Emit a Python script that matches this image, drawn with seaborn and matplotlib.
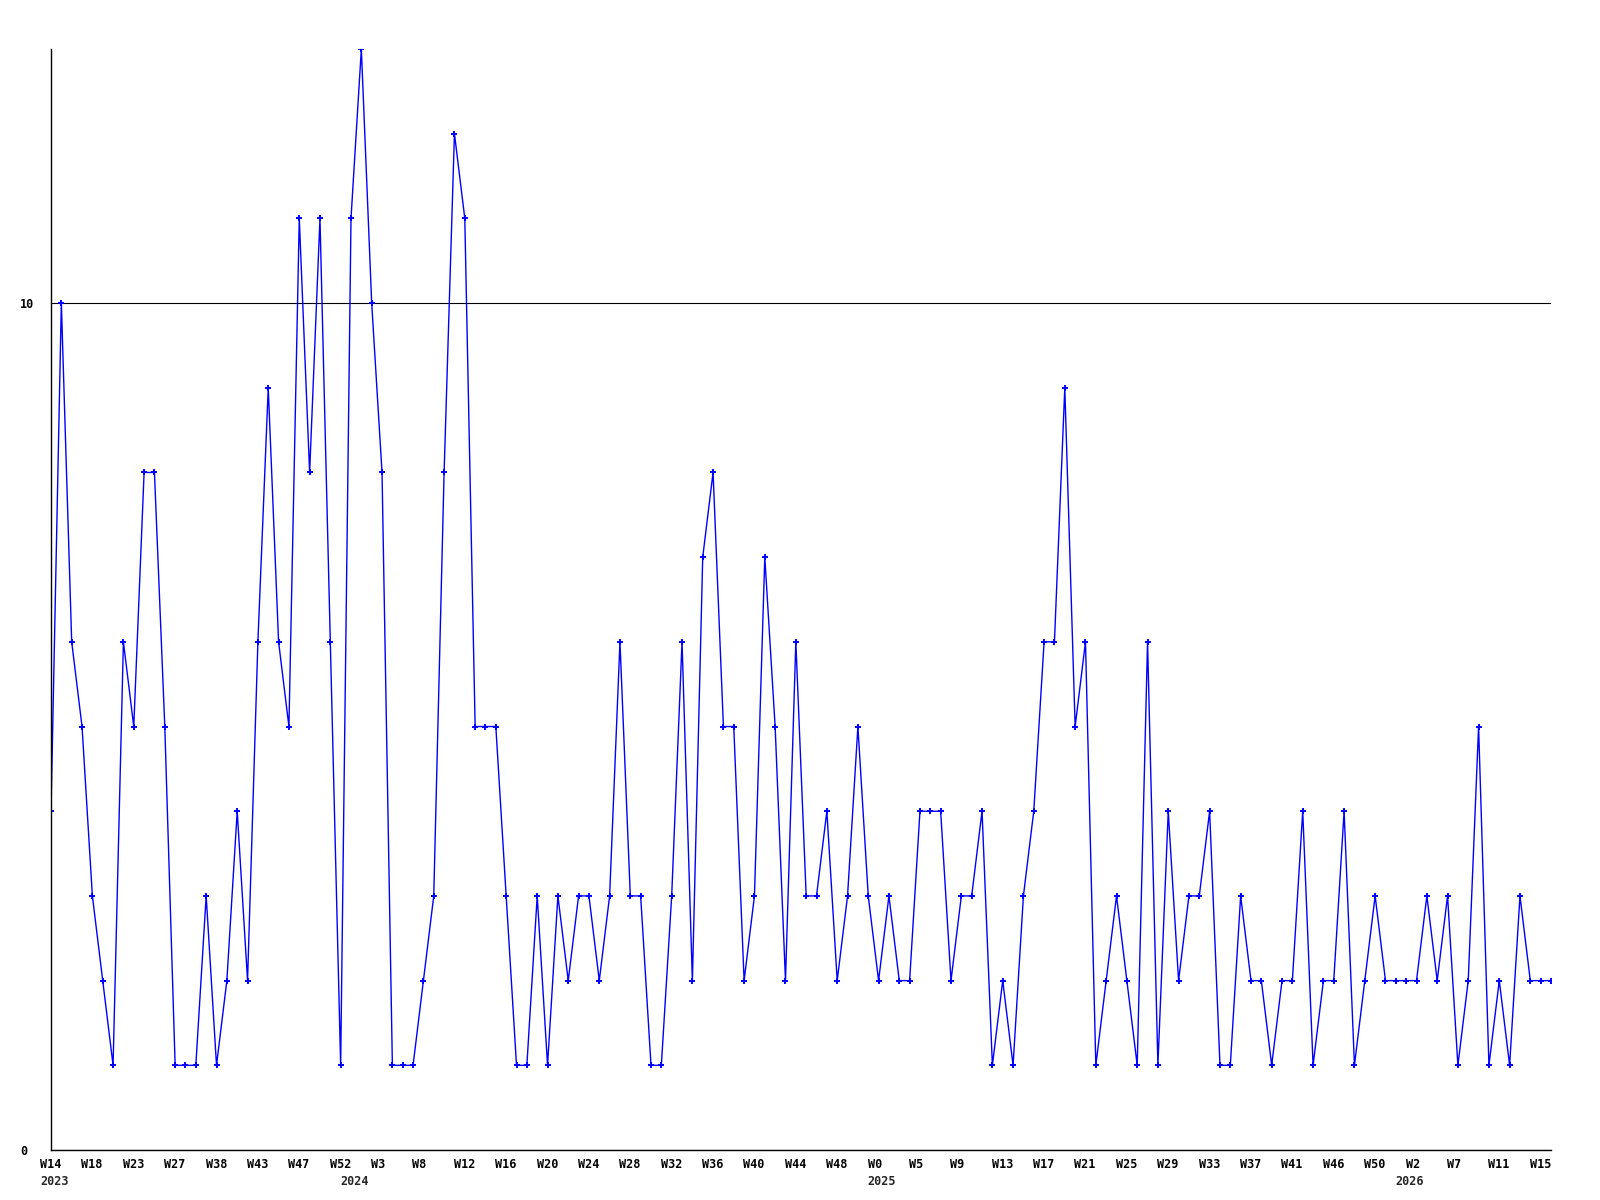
import pandas as pd
import matplotlib.pyplot as plt
import matplotlib.transforms as mtransforms
import seaborn as sns

# weekly counts, W14 2023 .. W15 2026 (+1)
values = [4, 10, 6, 5, 3, 2, 1, 6, 5, 8, 8, 5, 1, 1, 1, 3, 1, 2, 4, 2, 6, 9, 6, 5, 11,
          8, 11, 6, 1, 11, 13, 10, 8, 1, 1, 1, 2, 3, 8, 12, 11, 5, 5, 5, 3, 1, 1, 3, 1,
          3, 2, 3, 3, 2, 3, 6, 3, 3, 1, 1, 3, 6, 2, 7, 8, 5, 5, 2, 3, 7, 5, 2, 6, 3,
          3, 4, 2, 3, 5, 3, 2, 3, 2, 2, 4, 4, 4, 2, 3, 3, 4, 1, 2, 1, 3, 4, 6, 6,
          9, 5, 6, 1, 2, 3, 2, 1, 6, 1, 4, 2, 3, 3, 4, 1, 1, 3, 2, 2, 1, 2, 2, 4,
          1, 2, 2, 4, 1, 2, 3, 2, 2, 2, 2, 3, 2, 3, 1, 2, 5, 1, 2, 1, 3, 2, 2, 2]

tick_labels = ['W14', 'W18', 'W23', 'W27', 'W38', 'W43', 'W47', 'W52', 'W3', 'W8',
               'W12', 'W16', 'W20', 'W24', 'W28', 'W32', 'W36', 'W40', 'W44', 'W48',
               'W0', 'W5', 'W9', 'W13', 'W17', 'W21', 'W25', 'W29', 'W33', 'W37',
               'W41', 'W46', 'W50', 'W2', 'W7', 'W11', 'W15']
tick_step = 4

year_labels = ['2023', '2024', '2025', '2026']
year_points = [0, 29, 80, 131]

df = pd.DataFrame({'point': range(len(values)), 'count': values})

sns.set_style('white')
plt.rcParams['font.family'] = ['DejaVu Sans Mono']

fig = plt.figure(figsize=(16, 12), dpi=100)
ax = fig.add_axes([51 / 1600, 50 / 1200, 1500 / 1600, 1101 / 1200])

sns.lineplot(data=df, x='point', y='count', color='#0000ff', lw=1.0,
             marker='+', markersize=5, markeredgewidth=1.4,
             markeredgecolor='#0000ff', ax=ax)

ax.set_xlim(0, len(values) - 1)
ax.set_ylim(0, 13)
ax.set_xlabel('')
ax.set_ylabel('')

for s in ['top', 'right']:
    ax.spines[s].set_visible(False)
for s in ['left', 'bottom']:
    ax.spines[s].set_color('black')
    ax.spines[s].set_linewidth(1.0)

ax.set_yticks([0, 10])
ax.set_yticklabels(['0', '10'])
ax.grid(axis='y', color='black', lw=0.8)
ax.grid(axis='x', visible=False)

ax.set_xticks(range(0, tick_step * len(tick_labels), tick_step))
ax.set_xticklabels(tick_labels)
ax.tick_params(axis='both', length=0, labelsize=8.5, colors='black')
ax.tick_params(axis='x', pad=6)
ax.tick_params(axis='y', pad=0)

shift_x = mtransforms.ScaledTranslation(-11 / 100, 0, fig.dpi_scale_trans)
for lbl in ax.get_xticklabels():
    lbl.set_ha('left')
    lbl.set_fontweight('bold')
    lbl.set_transform(lbl.get_transform() + shift_x)

shift_y = mtransforms.ScaledTranslation(-31 / 100, 0, fig.dpi_scale_trans)
for lbl in ax.get_yticklabels():
    lbl.set_ha('left')
    lbl.set_fontweight('bold')
    lbl.set_transform(lbl.get_transform() + shift_y)

shift_year = mtransforms.ScaledTranslation(-11 / 100, -25 / 100, fig.dpi_scale_trans)
for pos, yr in zip(year_points, year_labels):
    ax.text(pos, 0, yr, transform=ax.get_xaxis_transform() + shift_year,
            ha='left', va='top', fontsize=8.5, fontweight='bold')

fig.savefig('out.png', dpi=100, facecolor='white')
